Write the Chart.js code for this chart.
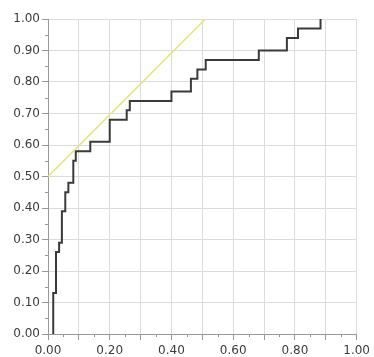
<!DOCTYPE html>
<html>
<head>
<meta charset="utf-8">
<script src="https://cdn.jsdelivr.net/npm/chart.js@4/dist/chart.umd.min.js"></script>
<style>
  html, body { margin: 0; padding: 0; background: #fff; }
  #wrap { width: 374px; height: 357px; position: relative; }
</style>
</head>
<body>
<div id="wrap"><canvas id="chart"></canvas></div>
<script>
// ROC step curve (false positive rate, true positive rate)
const fpr = [0.017, 0.026, 0.036, 0.045, 0.056, 0.066, 0.082, 0.090, 0.137, 0.200, 0.255, 0.265, 0.400, 0.463, 0.484, 0.511, 0.683, 0.774, 0.810, 0.883, 0.883];
const tpr = [0.00, 0.13, 0.26, 0.29, 0.39, 0.45, 0.48, 0.55, 0.58, 0.61, 0.68, 0.71, 0.74, 0.77, 0.81, 0.84, 0.87, 0.90, 0.94, 0.97, 1.00];
// reference line
const refX = [0.00, 0.51];
const refY = [0.50, 1.00];

const toPts = (xs, ys) => xs.map((x, i) => ({x, y: ys[i]}));

// minor ticks at 0.05 between the gridlines
const minorTicks = {
    id: 'minorTicks',
    afterDraw(chart){
        const {ctx, chartArea, scales} = chart;
        ctx.save();
        ctx.strokeStyle = '#999';
        ctx.lineWidth = 1;
        ctx.beginPath();
        for (let v = 0.05; v < 1; v += 0.1) {
            const px = Math.round(scales.x.getPixelForValue(v)) + 0.5;
            ctx.moveTo(px, chartArea.bottom);
            ctx.lineTo(px, chartArea.bottom + 3);
            const py = Math.round(scales.y.getPixelForValue(v)) + 0.5;
            ctx.moveTo(chartArea.left, py);
            ctx.lineTo(chartArea.left - 3, py);
        }
        ctx.stroke();
        ctx.restore();
    }
};

function init(){
    const ctx = document.getElementById('chart').getContext('2d');
    new Chart(ctx, {
        type: 'line',
        data: {
            datasets: [
                {
                    data: toPts(refX, refY),
                    borderColor: '#e3e37a',
                    borderWidth: 1.5,
                    pointRadius: 0,
                    fill: false
                },
                {
                    data: toPts(fpr, tpr),
                    borderColor: '#3a3a3a',
                    borderWidth: 2,
                    pointRadius: 0,
                    stepped: 'after',
                    fill: false
                }
            ]
        },
        options: {
            responsive: true,
            maintainAspectRatio: false,
            animation: false,
            layout: {padding: {top: 19, right: 11, left: 0, bottom: 0}},
            plugins: {legend: {display: false}, tooltip: {enabled: false}},
            scales: {
                x: {
                    type: 'linear',
                    min: 0, max: 1,
                    afterFit: s => { s.height = 23; },
                    border: {color: '#999'},
                    grid: {color: '#dcdcdc', tickColor: '#999', tickLength: 6},
                    ticks: {
                        stepSize: 0.1,
                        maxRotation: 0,
                        autoSkip: false,
                        padding: 4,
                        color: '#3c3c3c',
                        font: {family: 'DejaVu Sans', size: 12},
                        callback: v => (Math.round(v * 10) % 2 === 0 ? v.toFixed(2) : '')
                    }
                },
                y: {
                    type: 'linear',
                    min: 0, max: 1,
                    afterFit: s => { s.width = 48; },
                    border: {color: '#999'},
                    grid: {color: '#dcdcdc', tickColor: '#999', tickLength: 6},
                    ticks: {
                        stepSize: 0.1,
                        autoSkip: false,
                        padding: 2,
                        color: '#3c3c3c',
                        font: {family: 'DejaVu Sans', size: 12},
                        callback: v => v.toFixed(2)
                    }
                }
            }
        },
        plugins: [minorTicks]
    });
}
init();
</script>
</body>
</html>
